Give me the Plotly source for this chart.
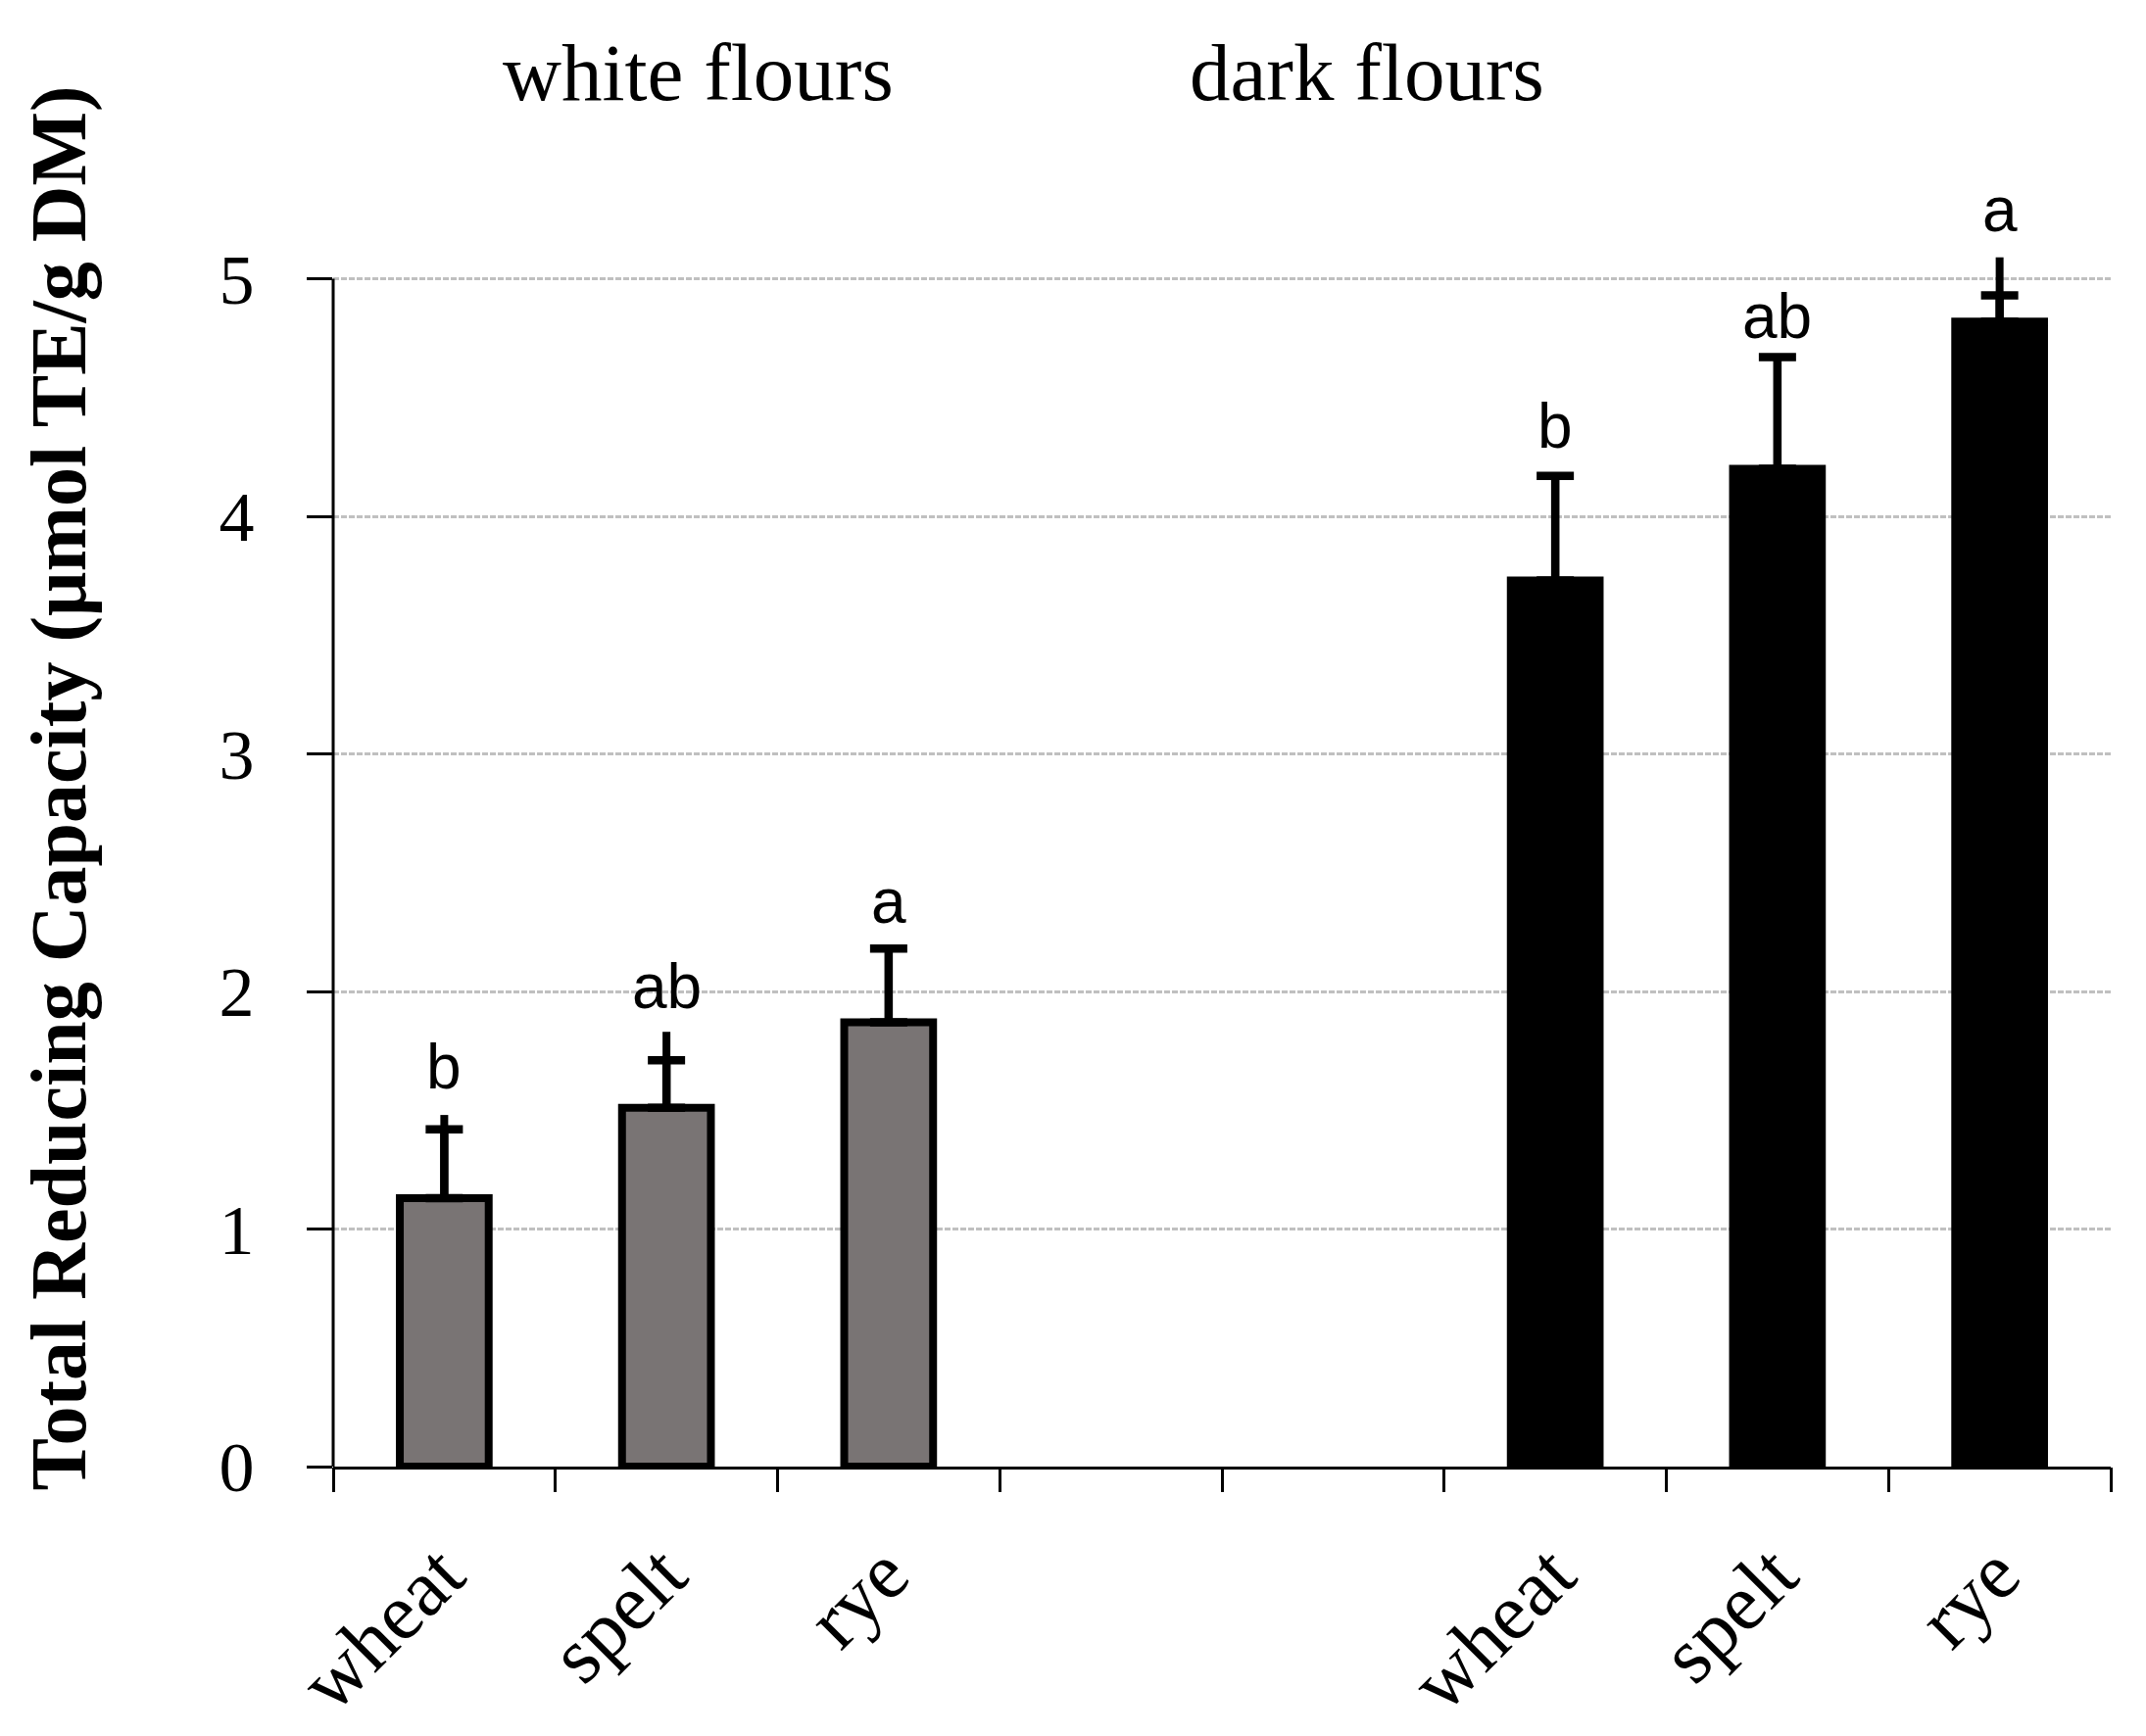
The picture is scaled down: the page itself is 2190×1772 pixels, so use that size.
import plotly.graph_objects as go

# ---------------- data ----------------
white_flours = ["wheat", "spelt", "rye"]
dark_flours = ["wheat", "spelt", "rye"]

white_mean = [1.13, 1.51, 1.87]
dark_mean = [3.73, 4.20, 4.82]

# error bar cap (SD) and whisker end
white_err = [0.29, 0.20, 0.31]
dark_err = [0.44, 0.47, 0.11]
white_whisker = [0.35, 0.32, 0.31]
dark_whisker = [0.44, 0.47, 0.27]

white_letters = ["b", "ab", "a"]
dark_letters = ["b", "ab", "a"]
white_letter_y = [1.59, 1.93, 2.29]
dark_letter_y = [4.29, 4.75, 5.20]

group_titles = ["white flours", "dark flours"]
y_title = "Total Reducing Capacity (μmol TE/g DM)"
y_ticks = [0, 1, 2, 3, 4, 5]

# ---------------- layout helpers ----------------
n_slots = 8
white_x = [0, 1, 2]
dark_x = [5, 6, 7]
tick_text = [""] * n_slots
for i, n in zip(white_x, white_flours):
    tick_text[i] = n
for i, n in zip(dark_x, dark_flours):
    tick_text[i] = n

SERIF = "Liberation Serif, Times New Roman, serif"
SANS = "Liberation Sans, Arial, sans-serif"

fig = go.Figure()

for xs, ys, whisk, col in [
    (white_x, white_mean, white_whisker, "#797474"),
    (dark_x, dark_mean, dark_whisker, "#000000"),
]:
    fig.add_trace(go.Bar(
        x=xs, y=ys, width=0.40,
        marker=dict(color=col, line=dict(color="black", width=8)),
        error_y=dict(type="data", array=whisk, symmetric=False, arrayminus=[0] * len(xs),
                     color="black", thickness=8, width=0),
        hoverinfo="skip", showlegend=False,
    ))

for xs, ys, err in [(white_x, white_mean, white_err), (dark_x, dark_mean, dark_err)]:
    fig.add_trace(go.Scatter(
        x=xs, y=ys, mode="markers", marker=dict(size=1, opacity=0),
        error_y=dict(type="data", array=err, symmetric=False, arrayminus=[0] * len(xs),
                     color="black", thickness=8.5, width=19),
        hoverinfo="skip", showlegend=False,
    ))

# invisible trace for the boundary-tick axis
fig.add_trace(go.Scatter(x=[-0.5, 7.5], y=[0, 0], xaxis="x2", mode="markers",
                         marker=dict(size=1, opacity=0), hoverinfo="skip", showlegend=False))

annotations = []
for xs, letters, ly in [(white_x, white_letters, white_letter_y), (dark_x, dark_letters, dark_letter_y)]:
    for x, t, y in zip(xs, letters, ly):
        annotations.append(dict(x=x, y=y, xref="x", yref="y", text=t, showarrow=False,
                                yanchor="middle", yshift=22,
                                font=dict(family=SANS, size=64, color="black")))

annotations.append(dict(x=0.2051, y=1.1285, xref="paper", yref="paper", text=group_titles[0],
                        showarrow=False, xanchor="center", yanchor="middle",
                        font=dict(family=SERIF, size=83, color="black")))
annotations.append(dict(x=0.5816, y=1.1285, xref="paper", yref="paper", text=group_titles[1],
                        showarrow=False, xanchor="center", yanchor="middle",
                        font=dict(family=SERIF, size=83, color="black")))
annotations.append(dict(x=-0.1540, y=0.5488, xref="paper", yref="paper", text="<b>" + y_title + "</b>",
                        textangle=-90, showarrow=False, xanchor="center", yanchor="middle",
                        font=dict(family=SERIF, size=80, color="black")))

fig.update_layout(
    width=2190, height=1772,
    margin=dict(l=332, r=44, t=228, b=283, pad=0),
    paper_bgcolor="white", plot_bgcolor="white",
    barmode="overlay",
    xaxis=dict(range=[-0.5, 7.5], tickmode="array", tickvals=list(range(n_slots)), ticktext=tick_text,
               ticks="", showline=True, linewidth=3, linecolor="black", showgrid=False, zeroline=False,
               tickangle=-45, tickfont=dict(family=SERIF, size=82, color="black"),
               ticklabelstandoff=26, ticklabelshift=-4),
    xaxis2=dict(overlaying="x", anchor="y", side="bottom", range=[-0.5, 7.5], tickmode="array",
                tickvals=[i - 0.5 for i in range(n_slots + 1)], ticks="outside", ticklen=25, tickwidth=3,
                tickcolor="black", showticklabels=False, showgrid=False, showline=False, zeroline=False),
    yaxis=dict(range=[0, 5.2], tickmode="array", tickvals=y_ticks, ticks="outside", ticklen=26, tickwidth=3,
               tickcolor="black", showline=False, showgrid=True, gridcolor="#c0c0c0", gridwidth=3,
               griddash="6px,2px", zeroline=False,
               tickfont=dict(family=SERIF, size=72, color="black"), ticklabelstandoff=39),
    shapes=[dict(type="line", xref="paper", yref="y", x0=0, x1=0, y0=0, y1=5,
                 line=dict(color="black", width=3), layer="above")],
    annotations=annotations,
)

fig.write_html("out.html")
